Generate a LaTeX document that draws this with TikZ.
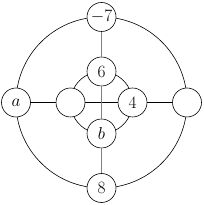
\documentclass[tikz,border=0pt]{standalone}
\usetikzlibrary{positioning}
\tikzset{
  vert/.style={draw,circle,fill=white,minimum size=29pt,inner sep=0pt,
    font=\fontsize{17.5}{20}\selectfont},
  spoke/.style={draw=gray,line width=1pt},
}
\begin{document}
\begin{tikzpicture}[x=1pt,y=1pt,line width=0.6pt]
\useasboundingbox (0,0) rectangle (203,205);
\coordinate (o) at (101.5,102.5);
% circles
\draw (o) circle (85.5);
\draw (o) circle (31);
% vertices
\node[vert] (top) at (101.5,188) {$-7$};
\node[vert] (bot) at (101.5,17) {$8$};
\node[vert] (lft) at (16,102.5) {$a$};
\node[vert] (rgt) at (187,102.5) {};
\node[vert] (six) at (101.5,133.5) {$6$};
\node[vert] (bb) at (101.5,71.5) {$b$};
\node[vert] (il) at (70.5,102.5) {};
\node[vert] (four) at (132.5,102.5) {$4$};
% connectors
\draw (lft) -- (il);
\draw (il) -- (four);
\draw (four) -- (rgt);
\draw[spoke] (top) -- (six);
\draw[spoke] (six) -- (bb);
\draw[spoke] (bb) -- (bot);
\end{tikzpicture}
\end{document}
